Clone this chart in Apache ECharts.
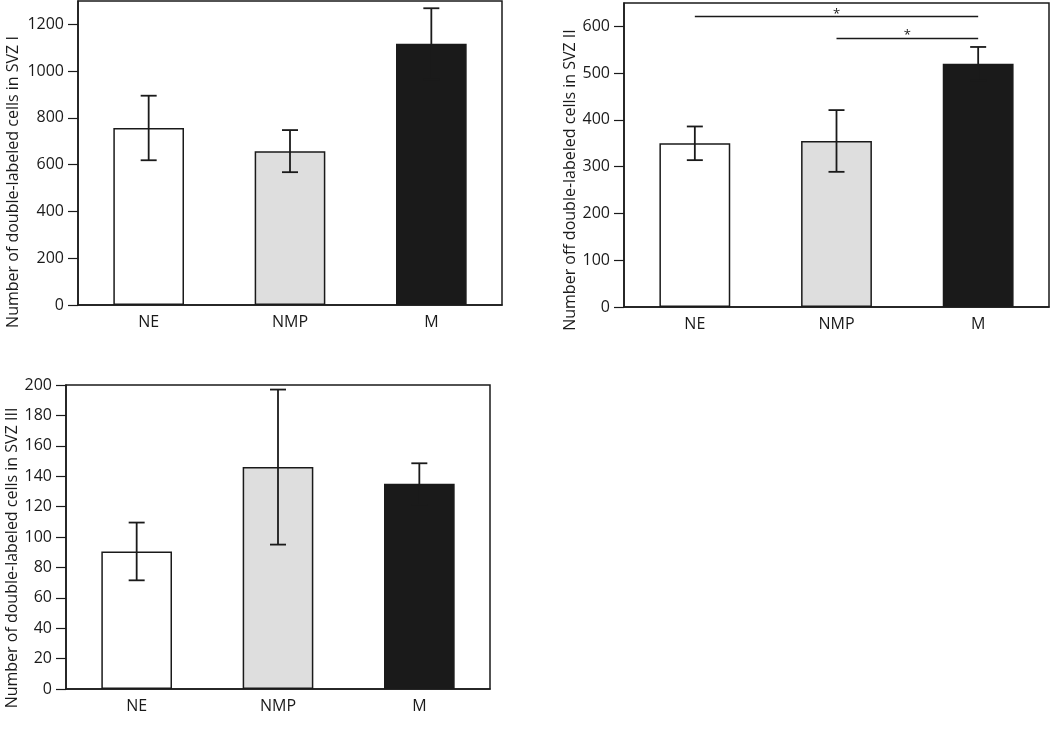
<!DOCTYPE html>
<html>
<head>
<meta charset="utf-8">
<script src="https://cdn.jsdelivr.net/npm/echarts@6/dist/echarts.min.js"></script>
<style>
html,body{margin:0;padding:0;background:#fff;}
#c{width:1050px;height:732px;}
</style>
</head>
<body>
<div id="c"></div>
<script>
// ---- data ----
var categories = ['NE', 'NMP', 'M'];
var barColors = ['#ffffff', '#dedede', '#1a1a1a'];

var svz1Mean = [757, 658, 1117];
var svz1Err  = [138, 90, 152];
var svz1Ticks = { min: 0, max: 1300, interval: 200 };
var svz1Title = 'Number of double-labeled cells in SVZ I';

var svz2Mean = [350, 355, 520];
var svz2Err  = [36, 66, 36];
var svz2Ticks = { min: 0, max: 650, interval: 100 };
var svz2Title = 'Number off double-labeled cells in SVZ II';
var svz2Sig = [
  { from: 'NE', to: 'M', y: 621, label: '*' },
  { from: 'NMP', to: 'M', y: 575, label: '*' }
];

var svz3Mean = [90.5, 146, 135];
var svz3Err  = [19, 51, 13.5];
var svz3Ticks = { min: 0, max: 200, interval: 20 };
var svz3Title = 'Number of double-labeled cells in SVZ III';

// ---- styling / layout ----
var FONT = 'Open Sans';
var INK = '#1a1a1a';
var grids = [
  { left: 78, top: 1, width: 424, height: 304 },
  { left: 624, top: 3, width: 425, height: 304 },
  { left: 66, top: 385, width: 424, height: 304 }
];
var titlePos = [[13, 182], [570, 180], [12, 558]];

var panels = [
  { mean: svz1Mean, err: svz1Err, ticks: svz1Ticks, title: svz1Title, sig: [] },
  { mean: svz2Mean, err: svz2Err, ticks: svz2Ticks, title: svz2Title, sig: svz2Sig },
  { mean: svz3Mean, err: svz3Err, ticks: svz3Ticks, title: svz3Title, sig: [] }
];

var option = {
  animation: false,
  backgroundColor: '#ffffff',
  textStyle: { fontFamily: FONT },
  grid: [], xAxis: [], yAxis: [], series: [], graphic: []
};

panels.forEach(function (p, i) {
  var g = grids[i];
  option.grid.push({
    left: g.left, top: g.top, width: g.width, height: g.height,
    show: true, borderColor: INK, borderWidth: 1.5, backgroundColor: 'transparent'
  });
  option.xAxis.push({
    type: 'category', gridIndex: i, data: categories,
    axisLine: { lineStyle: { color: INK, width: 1.5 } },
    axisTick: { show: false },
    axisLabel: { color: INK, fontSize: 16, fontFamily: FONT, margin: 9 }
  });
  option.yAxis.push({
    type: 'value', gridIndex: i,
    min: p.ticks.min, max: p.ticks.max, interval: p.ticks.interval,
    axisLine: { show: true, lineStyle: { color: INK, width: 1.5 } },
    axisTick: { show: true, length: 10, lineStyle: { color: INK, width: 1.2 } },
    axisLabel: {
      color: INK, fontSize: 16, fontFamily: FONT, margin: 14,
      formatter: function (v) { return String(v); },
      showMaxLabel: (p.ticks.max % p.ticks.interval === 0)
    },
    splitLine: { show: false }
  });
  option.graphic.push({
    type: 'text',
    x: titlePos[i][0], y: titlePos[i][1],
    rotation: Math.PI / 2,
    style: {
      text: p.title, fill: INK,
      font: '16px "' + FONT + '"',
      align: 'center', verticalAlign: 'middle',
      textAlign: 'center', textVerticalAlign: 'middle'
    }
  });

  var barSeries = {
    type: 'bar', xAxisIndex: i, yAxisIndex: i,
    barWidth: '50%',
    data: p.mean.map(function (v, k) {
      return { value: v, itemStyle: { color: barColors[k], borderColor: INK, borderWidth: 1.5 } };
    }),
    z: 2
  };
  if (p.sig.length) {
    barSeries.markLine = {
      silent: true, symbol: 'none', animation: false,
      lineStyle: { color: INK, width: 1.3, type: 'solid' },
      label: { show: true, position: 'middle', formatter: '{b}', color: INK, fontSize: 13, distance: -4 },
      data: p.sig.map(function (s) {
        return [{ coord: [s.from, s.y], name: s.label }, { coord: [s.to, s.y] }];
      })
    };
  }
  option.series.push(barSeries);

  option.series.push({
    type: 'custom', xAxisIndex: i, yAxisIndex: i, z: 3,
    data: p.mean.map(function (v, k) { return [k, v - p.err[k], v + p.err[k]]; }),
    renderItem: function (params, api) {
      var x = api.value(0);
      var lo = api.coord([x, api.value(1)]);
      var hi = api.coord([x, api.value(2)]);
      var hw = 8;
      var st = { stroke: INK, lineWidth: 1.8 };
      return {
        type: 'group',
        children: [
          { type: 'line', shape: { x1: hi[0], y1: hi[1], x2: lo[0], y2: lo[1] }, style: st },
          { type: 'line', shape: { x1: hi[0] - hw, y1: hi[1], x2: hi[0] + hw, y2: hi[1] }, style: st },
          { type: 'line', shape: { x1: lo[0] - hw, y1: lo[1], x2: lo[0] + hw, y2: lo[1] }, style: st }
        ]
      };
    }
  });
});

var chart = echarts.init(document.getElementById('c'), null, { renderer: 'canvas' });
chart.setOption(option);
</script>
</body>
</html>
